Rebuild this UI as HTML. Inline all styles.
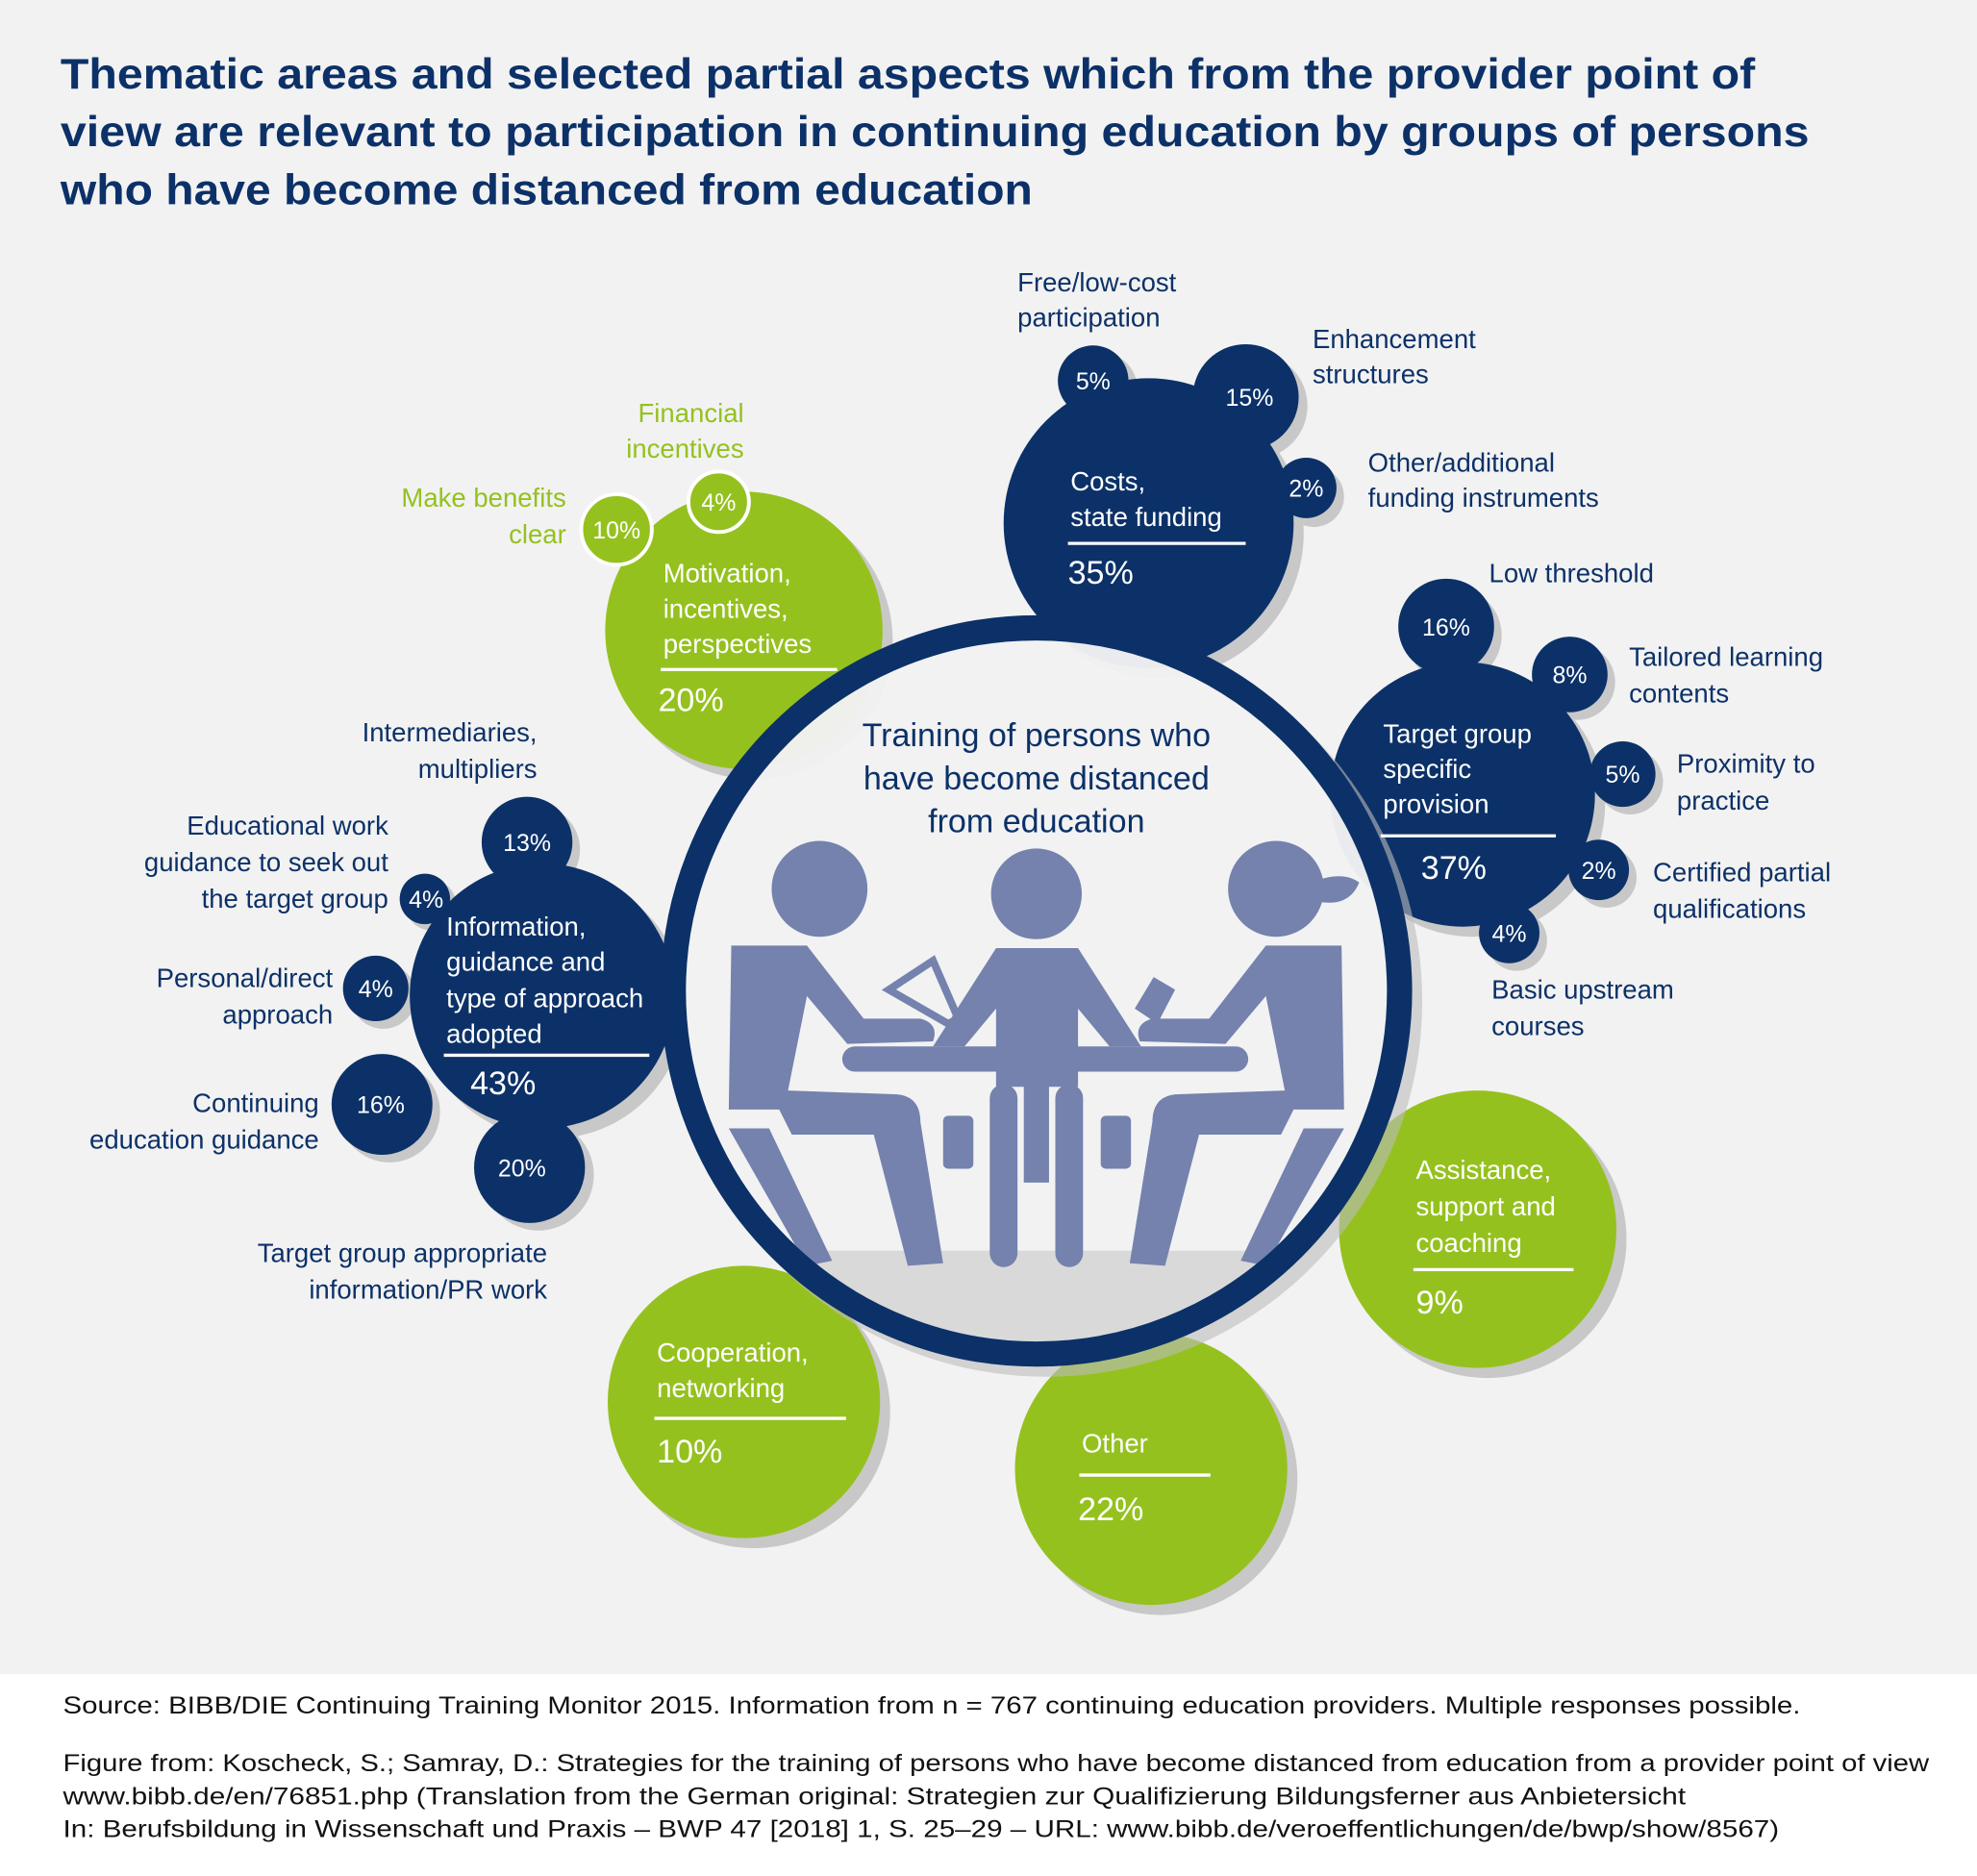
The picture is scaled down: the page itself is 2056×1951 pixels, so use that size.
<!DOCTYPE html>
<html><head><meta charset="utf-8"><style>
html,body{margin:0;padding:0;background:#fff}
svg{display:block}
text{font-family:"Liberation Sans",sans-serif}
</style></head><body>
<svg width="2056" height="1951" viewBox="0 0 1568 1488" preserveAspectRatio="none" xmlns="http://www.w3.org/2000/svg">
<defs>
<clipPath id="inner"><circle cx="822" cy="786" r="278"/></clipPath>
</defs>
<rect x="0" y="0" width="1568" height="1328" fill="#f2f2f2"/>
<rect x="0" y="1328" width="1568" height="160" fill="#fff"/>
<g fill="#0c3168" font-weight="bold" font-size="34">
<text x="48" y="70" textLength="1344" lengthAdjust="spacingAndGlyphs">Thematic areas and selected partial aspects which from the provider point of</text>
<text x="48" y="116" textLength="1387" lengthAdjust="spacingAndGlyphs">view are relevant to participation in continuing education by groups of persons</text>
<text x="48" y="162" textLength="771" lengthAdjust="spacingAndGlyphs">who have become distanced from education</text>
</g>
<!-- shadows -->
<g fill="#c8c8c8">
<circle cx="598" cy="508" r="110"/><circle cx="919" cy="423" r="115"/><circle cx="1168" cy="638" r="105"/>
<circle cx="438" cy="798" r="105"/><circle cx="1180" cy="983" r="110"/><circle cx="598" cy="1120" r="108"/><circle cx="921" cy="1173" r="108"/>
<circle cx="874" cy="308" r="28"/><circle cx="995" cy="322" r="42"/><circle cx="1042" cy="394" r="24"/>
<circle cx="1153" cy="504" r="38"/><circle cx="1251" cy="541" r="30"/><circle cx="1293" cy="620" r="26"/><circle cx="1274" cy="696" r="24"/><circle cx="1203" cy="746" r="24"/>
<circle cx="424" cy="674" r="36"/><circle cx="342" cy="718" r="20"/><circle cx="304" cy="790" r="26"/><circle cx="309" cy="882" r="40"/><circle cx="427" cy="932" r="44"/>
</g>
<!-- green big circles -->
<g fill="#95c11f">
<circle cx="590" cy="500" r="110"/><circle cx="1172" cy="975" r="110"/><circle cx="590" cy="1112" r="108"/><circle cx="913" cy="1165" r="108"/>
</g>
<circle cx="489" cy="420" r="28" fill="#95c11f" stroke="#fff" stroke-width="3"/>
<circle cx="570" cy="398" r="24" fill="#95c11f" stroke="#fff" stroke-width="3"/>
<!-- navy circles -->
<g fill="#0c3168">
<circle cx="911" cy="415" r="115"/><circle cx="867" cy="302" r="28"/><circle cx="988" cy="315" r="42"/><circle cx="1036" cy="387" r="24"/>
<circle cx="1160" cy="630" r="105"/><circle cx="1147" cy="497" r="38"/><circle cx="1245" cy="535" r="30"/><circle cx="1287" cy="614" r="26"/><circle cx="1268" cy="690" r="24"/><circle cx="1197" cy="740" r="24"/>
<circle cx="430" cy="790" r="105"/><circle cx="418" cy="668" r="36"/><circle cx="337" cy="713" r="20"/><circle cx="298" cy="784" r="26"/><circle cx="303" cy="876" r="40"/><circle cx="420" cy="926" r="44"/>
</g>
<!-- big center -->
<circle cx="830" cy="794" r="298" fill="#bdbdbd" opacity="0.6"/>
<circle cx="822" cy="786" r="288" fill="#f4f4f5" opacity="0.92"/>
<g clip-path="url(#inner)">
<rect x="500" y="992" width="650" height="120" fill="#d9d9d9"/>
<g fill="#7482ad">
<circle cx="650" cy="705" r="38"/><circle cx="822" cy="709" r="36"/><circle cx="1012" cy="705" r="38"/>
<path d="M1040 700 Q1065 690 1078 700 Q1070 720 1045 715Z"/>
<path d="M580 750 L640 750 L685 808 L730 808 Q745 812 740 826 L672 828 L640 790 L625 865 L712 868 Q730 870 730 890 L748 1002 L720 1004 L693 900 L628 900 L618 880 L578 880 Z"/>
<path d="M578 880 L560 880 L570 1000 L530 1000 Z" opacity="0"/>
<path d="M578 895 L610 895 L660 1000 L640 1004 Z"/>
<path d="M1064 750 L1004 750 L959 808 L914 808 Q899 812 904 826 L972 828 L1004 790 L1019 865 L932 868 Q914 870 914 890 L896 1002 L924 1004 L951 900 L1016 900 L1026 880 L1066 880 Z"/>
<path d="M1066 895 L1034 895 L984 1000 L1004 1004 Z"/>
<path d="M790 752 L855 752 L905 830 L880 830 L855 800 L855 862 L790 862 L790 800 L765 830 L740 830 Z"/>
<rect x="668" y="830" width="322" height="20" rx="10"/>
<rect x="785" y="860" width="22" height="145" rx="11"/><rect x="837" y="860" width="22" height="145" rx="11"/>
<rect x="812" y="858" width="20" height="80"/>
<rect x="748" y="885" width="24" height="42" rx="4"/><rect x="873" y="885" width="24" height="42" rx="4"/>
</g>
<path d="M705 785 L740 762 L760 808 L752 812 Z" fill="none" stroke="#7482ad" stroke-width="6"/>
<path d="M900 800 L915 775 L932 785 L918 812 Z" fill="#7482ad"/>
</g>
<circle cx="822" cy="786" r="288" fill="none" stroke="#0c3168" stroke-width="20"/>
<g fill="#0c3168" font-size="26" text-anchor="middle">
<text x="822" y="592">Training of persons who</text>
<text x="822" y="626">have become distanced</text>
<text x="822" y="660">from education</text>
</g>
<!-- white texts in circles -->
<g fill="#fff" font-size="21">
<text x="526" y="462">Motivation,</text><text x="526" y="490">incentives,</text><text x="526" y="518">perspectives</text>
<text x="522" y="564" font-size="26">20%</text>
<text x="849" y="389">Costs,</text><text x="849" y="417">state funding</text>
<text x="847" y="463" font-size="26">35%</text>
<text x="1097" y="589">Target group</text><text x="1097" y="617">specific</text><text x="1097" y="645">provision</text>
<text x="1127" y="697" font-size="26">37%</text>
<text x="354" y="742">Information,</text><text x="354" y="770">guidance and</text><text x="354" y="799">type of approach</text><text x="354" y="827">adopted</text>
<text x="373" y="868" font-size="26">43%</text>
<text x="1123" y="935">Assistance,</text><text x="1123" y="964">support and</text><text x="1123" y="993">coaching</text>
<text x="1123" y="1042" font-size="26">9%</text>
<text x="521" y="1080">Cooperation,</text><text x="521" y="1108">networking</text>
<text x="521" y="1160" font-size="26">10%</text>
<text x="858" y="1152">Other</text>
<text x="855" y="1206" font-size="26">22%</text>
</g>
<g stroke="#fff" stroke-width="2.5">
<line x1="524" y1="531" x2="664" y2="531"/><line x1="847" y1="431" x2="988" y2="431"/>
<line x1="1095" y1="663" x2="1234" y2="663"/><line x1="352" y1="837" x2="515" y2="837"/>
<line x1="1121" y1="1007" x2="1248" y2="1007"/><line x1="519" y1="1125" x2="671" y2="1125"/><line x1="856" y1="1170" x2="960" y2="1170"/>
</g>
<g fill="#fff" font-size="19" text-anchor="middle">
<text x="489" y="427">10%</text><text x="570" y="405">4%</text>
<text x="867" y="309">5%</text><text x="991" y="322">15%</text><text x="1036" y="394">2%</text>
<text x="1147" y="504">16%</text><text x="1245" y="542">8%</text><text x="1287" y="621">5%</text><text x="1268" y="697">2%</text><text x="1197" y="747">4%</text>
<text x="418" y="675">13%</text><text x="338" y="720">4%</text><text x="298" y="791">4%</text><text x="302" y="883">16%</text><text x="414" y="933">20%</text>
</g>
<!-- outer labels -->
<g fill="#95c11f" font-size="21">
<text x="590" y="335" text-anchor="end">Financial</text><text x="590" y="363" text-anchor="end">incentives</text>
<text x="449" y="402" text-anchor="end">Make benefits</text><text x="449" y="431" text-anchor="end">clear</text>
</g>
<g fill="#0c3168" font-size="21">
<text x="807" y="231">Free/low-cost</text><text x="807" y="259">participation</text>
<text x="1041" y="276">Enhancement</text><text x="1041" y="304">structures</text>
<text x="1085" y="374">Other/additional</text><text x="1085" y="402">funding instruments</text>
<text x="1181" y="462">Low threshold</text>
<text x="1292" y="528">Tailored learning</text><text x="1292" y="557">contents</text>
<text x="1330" y="613">Proximity to</text><text x="1330" y="642">practice</text>
<text x="1311" y="699">Certified partial</text><text x="1311" y="728">qualifications</text>
<text x="1183" y="792">Basic upstream</text><text x="1183" y="821">courses</text>
<g text-anchor="end">
<text x="426" y="588">Intermediaries,</text><text x="426" y="617">multipliers</text>
<text x="308" y="662">Educational work</text><text x="308" y="691">guidance to seek out</text><text x="308" y="720">the target group</text>
<text x="264" y="783">Personal/direct</text><text x="264" y="812">approach</text>
<text x="253" y="882">Continuing</text><text x="253" y="911">education guidance</text>
<text x="434" y="1001">Target group appropriate</text><text x="434" y="1030">information/PR work</text>
</g>
</g>
<g fill="#111" font-size="19">
<text x="50" y="1359" textLength="1378" lengthAdjust="spacingAndGlyphs">Source: BIBB/DIE Continuing Training Monitor 2015. Information from n = 767 continuing education providers. Multiple responses possible.</text>
<text x="50" y="1405" textLength="1480" lengthAdjust="spacingAndGlyphs">Figure from: Koscheck, S.; Samray, D.: Strategies for the training of persons who have become distanced from education from a provider point of view</text>
<text x="50" y="1431" textLength="1287" lengthAdjust="spacingAndGlyphs">www.bibb.de/en/76851.php (Translation from the German original: Strategien zur Qualifizierung Bildungsferner aus Anbietersicht</text>
<text x="50" y="1457" textLength="1361" lengthAdjust="spacingAndGlyphs">In: Berufsbildung in Wissenschaft und Praxis – BWP 47 [2018] 1, S. 25–29 – URL: www.bibb.de/veroeffentlichungen/de/bwp/show/8567)</text>
</g>
</svg>
</body></html>
